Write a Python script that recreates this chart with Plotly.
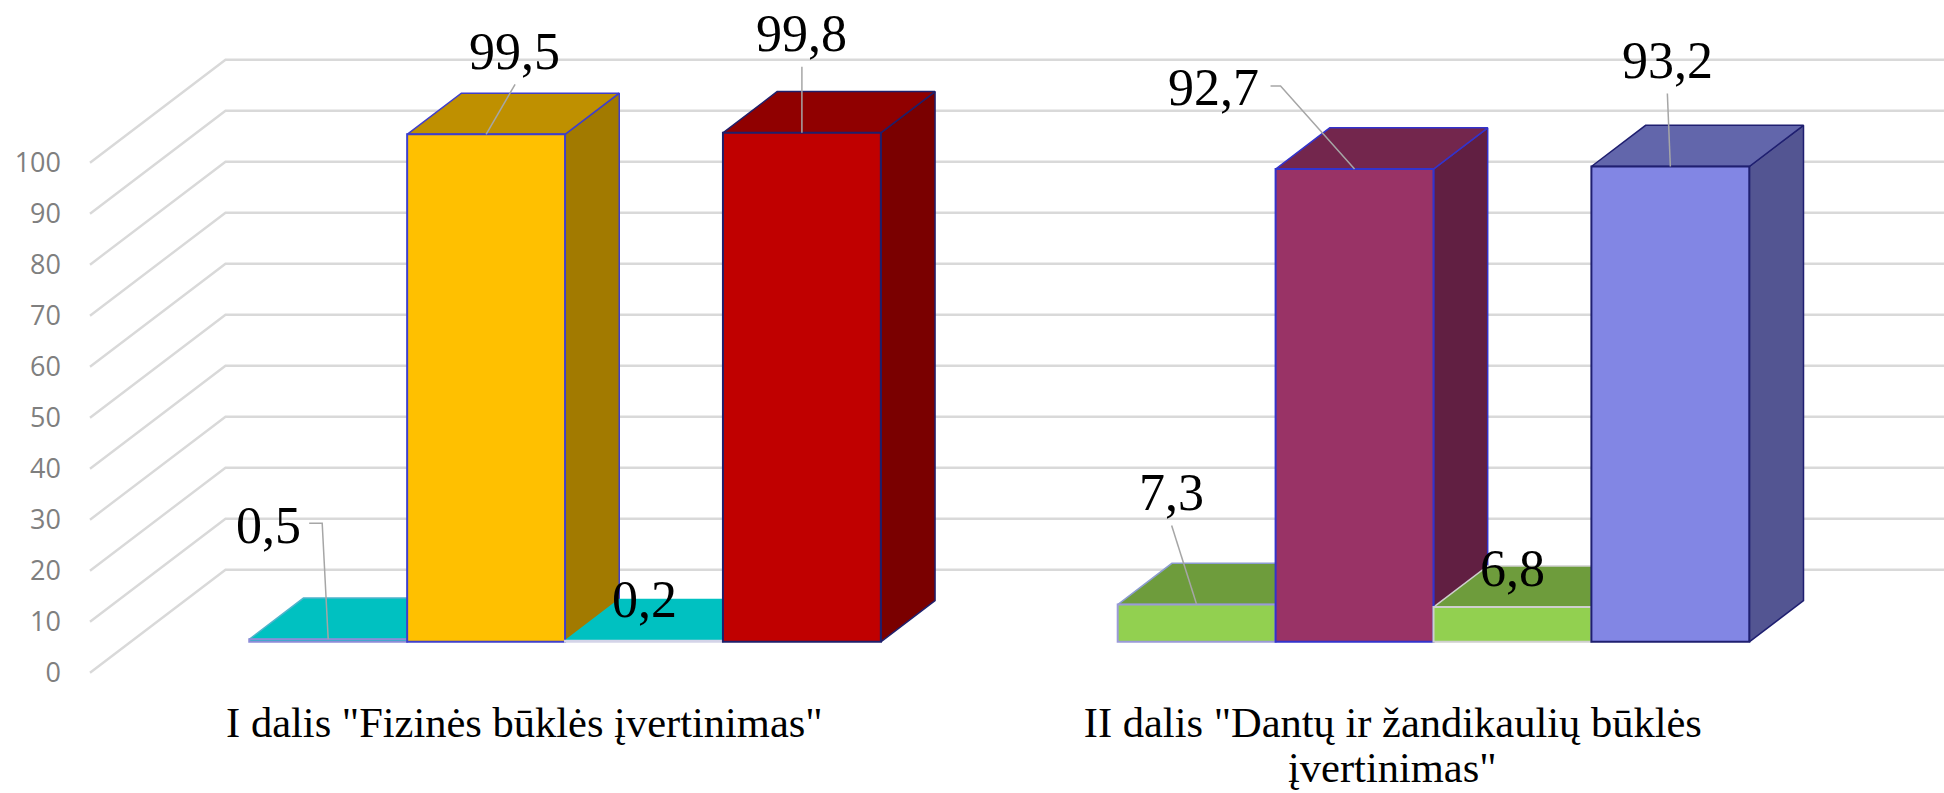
import plotly.graph_objects as go

# ---- data ----
categories = ['I dalis "Fizinės būklės įvertinimas"',
              'II dalis "Dantų ir žandikaulių būklės']
category_second_line = [None, 'įvertinimas"']
cat_index = [0, 0, 0, 0, 1, 1, 1, 1]
bar_slot = [0, 1, 2, 3, 0, 1, 2, 3]
values = [0.5, 99.5, 0.2, 99.8, 7.3, 92.7, 6.8, 93.2]
value_labels = ["0,5", "99,5", "0,2", "99,8", "7,3", "92,7", "6,8", "93,2"]
y_ticks = [0, 10, 20, 30, 40, 50, 60, 70, 80, 90, 100]

# ---- styles ----
front_colors = ["#00C1C1", "#FFC000", "#00C1C1", "#C00000", "#92D050", "#993366", "#92D050", "#8286E4"]
top_colors = ["#00C1C1", "#BF9000", "#00C1C1", "#900000", "#6E9C3C", "#73264D", "#6E9C3C", "#6266AB"]
side_colors = ["#009A9A", "#A27A00", "#009A9A", "#7A0000", "#5D8532", "#611F42", "#5D8532", "#535592"]
edge_colors = ["#8C8CD8", "#3F3FCC", "#D4D4E8", "#1F1F6B", "#9A9AD8", "#3333CC", "#CFCFCF", "#1F1F70"]
depth_edge_colors = ["#4FB4CC", "#3F3FCC", "#00C1C1", "#1F1F6B", "#8C9CD0", "#3333CC", "#CFCFCF", "#1F1F70"]
# label offset from the bar's front-top centre, in pixels (dx, dy, screen-down positive)
label_offsets = [(-60, -114), (28, -83), (0, -41), (0, -99), (-25, -112), (-141, -82), (0, -39), (-3, -106)]
# leader polylines as pixel offsets from the front-top centre
leaders = [
    [(-19, -116), (-6, -116), (0, 0)],
    [(29, -50), (0, 0)],
    None,
    [(0, -66), (0, 0)],
    [(-25, -79), (0, 0)],
    [(-84, -83), (-74, -83), (0, 0)],
    None,
    [(-3, -73), (0, 0)],
]

PX_X = 157.9       # pixels per bar width
PX_Y = 5.1         # pixels per value unit
ORIGIN_X_PX = 524.4
ORIGIN_Y_PX = 672.7
PLOT_LEFT = 66
PLOT_BOTTOM = 700
W, H = 1944, 793
CAT_STEP = 5.5
WALL_DX = 135.5 / PX_X
WALL_DY = 103 / PX_Y
T_FRONT, T_BACK = 0.30, 0.70


def bar_geom(i):
    xc = cat_index[i] * CAT_STEP + (bar_slot[i] - 1.5) + T_FRONT * WALL_DX
    base = T_FRONT * WALL_DY
    return xc, base


x_range = [(PLOT_LEFT - ORIGIN_X_PX) / PX_X, (W - ORIGIN_X_PX) / PX_X]
y_range = [(ORIGIN_Y_PX - PLOT_BOTTOM) / PX_Y, ORIGIN_Y_PX / PX_Y]

fig = go.Figure()
GRID = "#D9D9D9"

# walls: gridlines derived from the tick values
for t in y_ticks:
    fig.add_trace(go.Scatter(
        x=[x_range[0] + (90 - PLOT_LEFT) / PX_X, x_range[0] + (90 - PLOT_LEFT) / PX_X + WALL_DX, x_range[1]],
        y=[t, t + WALL_DY, t + WALL_DY],
        mode="lines", line=dict(color=GRID, width=2.4), hoverinfo="skip", showlegend=False))

# depth faces, left to right
dt = T_BACK - T_FRONT
for i, v in enumerate(values):
    xc, base = bar_geom(i)
    l, r = xc - 0.5, xc + 0.5
    ddx, ddy = dt * WALL_DX, dt * WALL_DY
    top = base + v
    fig.add_trace(go.Scatter(
        x=[r, r + ddx, r + ddx, r, r], y=[base, base + ddy, top + ddy, top, base],
        mode="lines", fill="toself", fillcolor=side_colors[i],
        line=dict(color=depth_edge_colors[i], width=1.5), hoverinfo="skip", showlegend=False))
    fig.add_trace(go.Scatter(
        x=[l, l + ddx, r + ddx, r, l], y=[top, top + ddy, top + ddy, top, top],
        mode="lines", fill="toself", fillcolor=top_colors[i],
        line=dict(color=depth_edge_colors[i], width=1.5), hoverinfo="skip", showlegend=False))

# front faces on an overlaid axis pair
for i, v in enumerate(values):
    xc, base = bar_geom(i)
    fig.add_trace(go.Bar(
        x=[xc], y=[v], base=[base], width=[1.0], xaxis="x2", yaxis="y2",
        marker=dict(color=front_colors[i], line=dict(color=edge_colors[i], width=2)),
        showlegend=False, hovertemplate=value_labels[i] + "<extra></extra>"))

# leader lines and labels
for i, v in enumerate(values):
    xc, base = bar_geom(i)
    top = base + v
    if leaders[i]:
        fig.add_trace(go.Scatter(
            x=[xc + p[0] / PX_X for p in leaders[i]],
            y=[top - p[1] / PX_Y for p in leaders[i]],
            xaxis="x2", yaxis="y2", mode="lines",
            line=dict(color="#A6A6A6", width=1.5), hoverinfo="skip", showlegend=False))
    fig.add_annotation(
        x=xc, y=top, xref="x2", yref="y2", text=value_labels[i], showarrow=False,
        xshift=label_offsets[i][0], yshift=-label_offsets[i][1],
        font=dict(family="Liberation Serif", size=52, color="#000000"))

for k, line in enumerate(category_second_line):
    if line:
        fig.add_annotation(
            x=k * CAT_STEP, y=y_range[0], xref="x", yref="y", text=line, showarrow=False,
            yanchor="top", yshift=-42,
            font=dict(family="Liberation Serif", size=42.5, color="#000000"))

axis_hidden = dict(visible=False, showgrid=False, zeroline=False)
fig.update_layout(
    width=W, height=H,
    margin=dict(l=PLOT_LEFT, r=0, t=0, b=H - PLOT_BOTTOM, pad=0, autoexpand=False),
    paper_bgcolor="white", plot_bgcolor="white",
    showlegend=False, barmode="overlay",
    xaxis=dict(range=x_range, showgrid=False, zeroline=False, showline=False, ticks="",
               automargin=False,
               tickmode="array", tickvals=[0, CAT_STEP], ticktext=categories,
               tickangle=0, ticklabelstandoff=-7,
               tickfont=dict(family="Liberation Serif", size=42.5, color="#000000")),
    yaxis=dict(range=y_range, showgrid=False, zeroline=False, showline=False, ticks="",
               automargin=False,
               tickmode="array", tickvals=y_ticks, ticklabelstandoff=4,
               tickfont=dict(family="Open Sans", size=27, color="#7F7F7F")),
    xaxis2=dict(range=x_range, overlaying="x", **axis_hidden),
    yaxis2=dict(range=y_range, overlaying="y", **axis_hidden),
)
fig.write_html("out.html", config=dict(displayModeBar=False),
               post_script="document.body.style.margin='0';document.body.style.overflow='hidden';")
